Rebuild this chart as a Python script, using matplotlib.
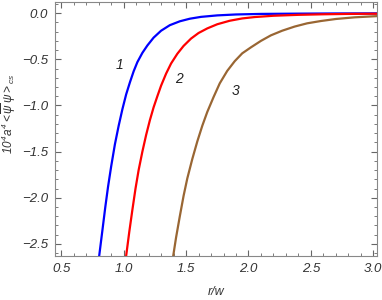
import matplotlib
matplotlib.use("Agg")
import matplotlib.pyplot as plt
from matplotlib.ticker import MultipleLocator, FuncFormatter

# values
r_1 = [0.804, 0.83, 0.853, 0.875, 0.90, 0.93, 0.96, 0.99, 1.02, 1.05, 1.08, 1.11, 1.15, 1.19,
       1.24, 1.30, 1.37, 1.45, 1.53, 1.62, 1.75, 1.9, 2.1, 2.4, 2.7, 3.03]
v_1 = [-2.63, -2.35, -2.10, -1.88, -1.66, -1.42, -1.22, -1.04, -0.88, -0.75, -0.63, -0.53, -0.43, -0.35,
       -0.265, -0.19, -0.13, -0.088, -0.06, -0.04, -0.024, -0.014, -0.008, -0.005, -0.003, -0.002]

r_2 = [1.02, 1.045, 1.07, 1.095, 1.12, 1.15, 1.18, 1.21, 1.24, 1.27, 1.30, 1.34, 1.38, 1.43,
       1.48, 1.54, 1.60, 1.67, 1.75, 1.85, 1.95, 2.05, 2.2, 2.4, 2.6, 2.8, 3.03]
v_2 = [-2.63, -2.37, -2.13, -1.90, -1.70, -1.50, -1.32, -1.16, -1.02, -0.90, -0.785, -0.655, -0.545, -0.44,
       -0.355, -0.275, -0.215, -0.165, -0.12, -0.082, -0.057, -0.042, -0.028, -0.018, -0.012, -0.008, -0.006]

r_3 = [1.397, 1.42, 1.45, 1.48, 1.51, 1.55, 1.59, 1.63, 1.67, 1.72, 1.77, 1.83, 1.89, 1.95,
       2.02, 2.10, 2.18, 2.27, 2.37, 2.47, 2.58, 2.70, 2.85, 3.03]
v_3 = [-2.63, -2.43, -2.20, -1.98, -1.79, -1.58, -1.39, -1.22, -1.07, -0.91, -0.76, -0.625, -0.52, -0.435,
       -0.37, -0.30, -0.24, -0.19, -0.145, -0.11, -0.085, -0.063, -0.045, -0.032]

curve_labels = ["1", "2", "3"]
label_pos = [(0.97, -0.56), (1.44, -0.71), (1.90, -0.84)]
colors = ["#0000ff", "#ff0000", "#996633"]

plt.rcParams['font.family'] = ['Liberation Sans', 'DejaVu Sans']
plt.rcParams['mathtext.fontset'] = 'custom'
plt.rcParams['mathtext.rm'] = 'Liberation Sans:italic'
plt.rcParams['mathtext.it'] = 'Liberation Sans:italic'

fig = plt.figure(figsize=(3.82, 3.0), dpi=100)
ax = fig.add_axes([0.144, 0.147, 0.843, 0.846])

for r, v, c in zip([r_1, r_2, r_3], [v_1, v_2, v_3], colors):
    ax.plot(r, v, color=c, lw=1.6, solid_joinstyle='round')

for lab, (x, y) in zip(curve_labels, label_pos):
    ax.text(x, y, lab, fontsize=10, style='italic', ha='center', va='center', color='#222222')

ax.set_xlim(0.45, 3.03)
ax.set_ylim(-2.63, 0.12)
ax.xaxis.set_major_locator(MultipleLocator(0.5))
ax.xaxis.set_minor_locator(MultipleLocator(0.1))
ax.yaxis.set_major_locator(MultipleLocator(0.5))
ax.yaxis.set_minor_locator(MultipleLocator(0.1))
ax.tick_params(which='both', direction='in', top=True, right=True, colors='#666666',
               labelcolor='#333333', labelsize=9.5)
ax.tick_params(which='major', length=4, pad=5)
ax.tick_params(which='minor', length=2)
fmt = FuncFormatter(lambda v, p: f"{v:.1f}".replace("-", "\u2212"))
ax.xaxis.set_major_formatter(fmt)
ax.yaxis.set_major_formatter(fmt)
for lab in ax.get_xticklabels() + ax.get_yticklabels():
    lab.set_fontstyle('italic')
for s in ax.spines.values():
    s.set_color('#888888')

ax.set_xlabel('r/w', fontsize=9, style='italic', color='#333333', labelpad=8)
ax.set_ylabel(r'$10^4 a^4<\overline{\psi}\,\psi>_{cs}$', fontsize=8.5, color='#333333')
ax.yaxis.set_label_coords(-0.115, 0.56)

fig.savefig('out.png', dpi=100)
